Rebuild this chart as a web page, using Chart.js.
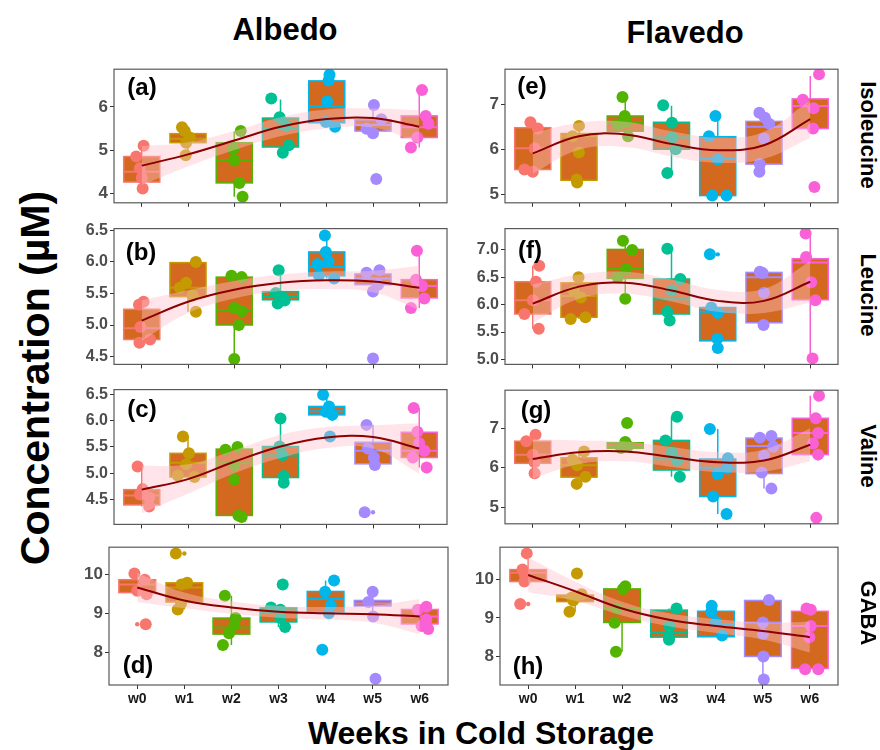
<!DOCTYPE html>
<html>
<head>
<meta charset="utf-8">
<script src="https://cdn.jsdelivr.net/npm/chart.js@4.4.1/dist/chart.umd.min.js"></script>
<style>
  body { margin: 0; background: #fff; }
  #wrap { position: relative; width: 880px; height: 750px; overflow: hidden; font-family: "Liberation Sans", Arial, sans-serif; }
  .txt { position: absolute; font-weight: bold; color: #000; white-space: nowrap; transform-origin: center center; }
</style>
</head>
<body>
<div id="wrap"></div>
<script>
// categories and group colours
const weeks = ['w0', 'w1', 'w2', 'w3', 'w4', 'w5', 'w6'];
const hue = ['#F8766D', '#C49A00', '#53B400', '#00C094', '#00B6EB', '#A58AFF', '#FB61D7'];

// box stats per week: [min, q1, median, q3, max]
// points: [week, jitter, value]; outliers: [week, value]
// fit: smooth line at each week; band: half width of the ribbon

// (a) Albedo - Isoleucine
const yRangeA = [3.78, 6.87];
const yTicksA = [4, 5, 6];
const yLabelsA = ['4', '5', '6'];
const boxA = [[4.11, 4.26, 4.50, 4.85, 5.10], [4.88, 5.17, 5.26, 5.38, 5.53], [3.92, 4.24, 4.76, 5.17, 5.43],
  [4.94, 5.07, 5.50, 5.74, 6.17], [5.54, 5.63, 6.01, 6.60, 6.74], [5.39, 5.44, 5.58, 5.70, 6.04], [5.06, 5.29, 5.53, 5.79, 6.39]];
const ptsA = [[0, -0.12, 4.85], [0, 0.04, 5.10], [0, -0.04, 4.58], [0, 0.02, 4.11], [0, 0, 4.36],
  [1, -0.13, 5.53], [1, -0.07, 5.44], [1, -0.04, 5.17], [1, -0.05, 4.88], [1, 0.04, 5.29],
  [2, 0.14, 5.44], [2, -0.02, 5.02], [2, 0, 4.76], [2, 0.11, 4.24], [2, 0.18, 3.92],
  [3, -0.2, 6.19], [3, -0.02, 5.76], [3, 0.12, 5.56], [3, 0.18, 5.11], [3, 0.05, 4.94],
  [4, 0.06, 6.74], [4, 0.04, 6.61], [4, 0.01, 6.13], [4, -0.02, 5.65], [4, 0.18, 5.54],
  [5, 0.02, 6.04], [5, 0.18, 5.71], [5, -0.14, 5.49], [5, 0, 5.39], [5, 0.07, 4.33],
  [6, 0.06, 6.39], [6, 0.14, 5.79], [6, 0.2, 5.61], [6, -0.04, 5.29], [6, -0.18, 5.06]];
const outA = [];
const fitA = [4.64, 4.90, 5.22, 5.54, 5.72, 5.74, 5.54];
const bandA = [0.45, 0.28, 0.22, 0.22, 0.22, 0.22, 0.38];

// (b) Albedo - Leucine
const yRangeB = [4.375, 6.53];
const yTicksB = [4.5, 5.0, 5.5, 6.0, 6.5];
const yLabelsB = ['4.5', '5.0', '5.5', '6.0', '6.5'];
const boxB = [[4.72, 4.77, 4.95, 5.25, 5.37], [5.21, 5.45, 5.59, 5.99, 6.00], [4.46, 5.00, 5.24, 5.76, 5.78],
  [5.34, 5.40, 5.45, 5.53, 5.87], [5.74, 5.78, 5.92, 6.16, 6.42], [5.53, 5.64, 5.74, 5.81, 5.87], [5.27, 5.43, 5.62, 5.72, 6.18]];
const ptsB = [[0, 0.04, 5.37], [0, -0.06, 5.32], [0, -0.03, 4.97], [0, 0.18, 4.77], [0, -0.05, 4.72],
  [1, 0.17, 6.00], [1, -0.04, 5.67], [1, 0.1, 5.47], [1, 0.17, 5.21], [1, -0.18, 5.59],
  [2, -0.06, 5.78], [2, 0.16, 5.76], [2, 0, 5.27], [2, 0.16, 5.22], [2, 0.1, 5.00], [2, 0, 4.46],
  [3, -0.04, 5.87], [3, -0.1, 5.51], [3, 0.05, 5.44], [3, -0.06, 5.34], [3, 0.09, 5.39],
  [4, -0.04, 6.42], [4, -0.02, 6.16], [4, -0.17, 5.79], [4, 0.16, 5.74], [4, 0.04, 6.01], [4, -0.2, 5.97],
  [5, -0.14, 5.83], [5, 0.14, 5.87], [5, 0, 5.53], [5, 0.11, 5.64], [5, 0, 4.47],
  [6, -0.05, 6.18], [6, -0.07, 5.72], [6, 0.06, 5.62], [6, 0.11, 5.42], [6, -0.18, 5.27]];
const outB = [];
const fitB = [5.07, 5.37, 5.56, 5.67, 5.71, 5.69, 5.59];
const bandB = [0.32, 0.18, 0.14, 0.13, 0.14, 0.17, 0.35];

// (c) Albedo - Valine
const yRangeC = [4.03, 6.59];
const yTicksC = [4.5, 5.0, 5.5, 6.0, 6.5];
const yLabelsC = ['4.5', '5.0', '5.5', '6.0', '6.5'];
const boxC = [[4.37, 4.40, 4.58, 4.69, 5.13], [4.93, 4.93, 5.20, 5.38, 5.70], [4.17, 4.20, 5.19, 5.46, 5.50],
  [4.82, 4.92, 5.34, 5.51, 6.04], [6.11, 6.11, 6.18, 6.27, 6.49], [5.16, 5.18, 5.43, 5.59, 5.92], [5.11, 5.30, 5.43, 5.78, 6.24]];
const ptsC = [[0, -0.09, 5.13], [0, 0.02, 4.70], [0, 0.16, 4.54], [0, 0.16, 4.37], [0, -0.04, 4.60],
  [1, -0.11, 5.70], [1, 0.02, 5.38], [1, -0.04, 5.17], [1, -0.22, 4.96], [1, 0.14, 4.93],
  [2, -0.19, 5.45], [2, 0.07, 5.50], [2, 0, 5.16], [2, 0, 4.88], [2, 0.09, 4.20], [2, 0.16, 4.17],
  [3, 0, 6.04], [3, -0.02, 5.51], [3, 0.04, 5.35], [3, 0.07, 4.95], [3, 0.07, 4.82],
  [4, -0.08, 6.49], [4, 0.05, 6.27], [4, 0.12, 6.11], [4, 0.07, 5.70], [4, -0.02, 6.17],
  [5, -0.14, 5.92], [5, -0.11, 5.47], [5, 0.02, 5.30], [5, 0.04, 5.16], [5, -0.18, 4.26],
  [6, -0.12, 6.24], [6, -0.04, 5.79], [6, 0, 5.57], [6, 0.11, 5.43], [6, -0.14, 5.30], [6, 0.16, 5.11]];
const outC = [[5, 4.26]];
const fitC = [4.69, 4.89, 5.22, 5.51, 5.68, 5.69, 5.47];
const bandC = [0.45, 0.28, 0.22, 0.22, 0.2, 0.22, 0.48];

// (d) Albedo - GABA
const yRangeD = [7.17, 10.69];
const yTicksD = [8, 9, 10];
const yLabelsD = ['8', '9', '10'];
const boxD = [[9.49, 9.53, 9.74, 9.86, 10.02], [9.10, 9.29, 9.66, 9.78, 9.78], [8.19, 8.47, 8.64, 8.88, 9.45],
  [8.65, 8.78, 9.04, 9.14, 9.15], [9.00, 9.04, 9.37, 9.56, 9.84], [8.92, 9.19, 9.25, 9.33, 9.55], [8.60, 8.73, 8.92, 9.10, 9.17]];
const ptsD = [[0, -0.06, 10.02], [0, 0.16, 9.86], [0, 0, 9.58], [0, 0.2, 9.49], [0, 0.18, 8.72],
  [1, -0.18, 10.53], [1, 0.06, 9.78], [1, -0.06, 9.74], [1, -0.14, 9.10], [1, -0.07, 9.25],
  [2, -0.14, 9.45], [2, 0.09, 8.88], [2, -0.05, 8.49], [2, -0.18, 8.19], [2, 0.06, 8.70],
  [3, -0.16, 9.15], [3, 0.04, 9.09], [3, 0.09, 9.74], [3, 0.14, 8.65], [3, 0.04, 8.88],
  [4, 0.18, 9.84], [4, -0.01, 9.55], [4, 0.11, 9.21], [4, 0.07, 9.00], [4, -0.07, 8.07],
  [5, 0, 9.55], [5, -0.09, 9.29], [5, 0.01, 8.92], [5, 0.06, 7.33],
  [6, 0.14, 9.17], [6, -0.04, 9.09], [6, 0.14, 8.84], [6, 0.18, 8.60], [6, 0.04, 8.68]];
const outD = [[0, 8.72], [1, 10.53], [4, 8.07], [5, 7.33]];
const fitD = [9.66, 9.33, 9.15, 9.04, 9.00, 8.98, 8.92];
const bandD = [0.37, 0.2, 0.16, 0.15, 0.16, 0.22, 0.45];

// (e) Flavedo - Isoleucine
const yRangeE = [4.81, 7.78];
const yTicksE = [5, 6, 7];
const yLabelsE = ['5', '6', '7'];
const boxE = [[5.50, 5.55, 6.02, 6.48, 6.60], [5.26, 5.31, 6.29, 6.35, 6.52], [6.29, 6.40, 6.60, 6.74, 7.16],
  [5.47, 6.00, 6.26, 6.60, 6.97], [4.97, 4.97, 5.79, 6.28, 6.77], [5.50, 5.67, 6.50, 6.62, 6.81], [6.46, 6.46, 6.96, 7.12, 7.63]];
const ptsE = [[0, -0.05, 6.60], [0, 0.11, 6.46], [0, 0.04, 6.02], [0, -0.18, 5.55], [0, 0, 5.50],
  [1, 0, 6.52], [1, -0.14, 6.29], [1, 0, 5.93], [1, -0.05, 5.33], [1, -0.04, 5.26],
  [2, -0.06, 7.16], [2, -0.01, 6.74], [2, 0.02, 6.60], [2, 0.06, 6.29], [2, -0.16, 6.55],
  [3, -0.18, 6.98], [3, 0.01, 6.59], [3, 0.01, 6.26], [3, 0.09, 6.00], [3, -0.09, 5.47],
  [4, -0.05, 6.74], [4, -0.19, 6.29], [4, 0, 5.77], [4, -0.12, 4.97], [4, 0.19, 4.97],
  [5, -0.1, 6.81], [5, 0.02, 6.70], [5, 0.11, 6.57], [5, 0, 6.24], [5, -0.09, 5.67], [5, -0.1, 5.50],
  [6, 0.19, 7.67], [6, -0.16, 7.10], [6, 0.07, 6.91], [6, 0.06, 6.46], [6, 0.09, 5.16]];
const outE = [];
const fitE = [5.91, 6.29, 6.33, 6.12, 5.98, 6.09, 6.67];
const bandE = [0.45, 0.3, 0.28, 0.28, 0.28, 0.3, 0.42];

// (f) Flavedo - Leucine
const yRangeF = [4.91, 7.39];
const yTicksF = [5.0, 5.5, 6.0, 6.5, 7.0];
const yLabelsF = ['5.0', '5.5', '6.0', '6.5', '7.0'];
const boxF = [[5.56, 5.83, 6.08, 6.42, 6.71], [5.74, 5.77, 6.16, 6.40, 6.50], [6.11, 6.48, 6.65, 7.01, 7.17],
  [5.71, 5.83, 6.10, 6.47, 7.02], [5.21, 5.34, 5.87, 5.95, 5.95], [5.63, 5.67, 6.50, 6.59, 6.60], [5.02, 6.09, 6.77, 6.84, 7.30]];
const ptsF = [[0, 0.14, 6.71], [0, 0.07, 6.42], [0, 0, 6.08], [0, -0.18, 5.83], [0, 0.13, 5.56],
  [1, -0.01, 6.50], [1, 0.04, 6.13], [1, -0.18, 5.74], [1, 0.14, 5.77], [1, -0.11, 6.25],
  [2, -0.05, 7.17], [2, 0.15, 7.00], [2, 0.02, 6.65], [2, -0.16, 6.50], [2, 0, 6.11],
  [3, -0.09, 7.02], [3, 0.19, 6.47], [3, 0.01, 6.26], [3, -0.09, 5.87], [3, -0.04, 5.71],
  [4, -0.17, 6.92], [4, 0, 5.85], [4, -0.14, 5.95], [4, -0.01, 5.38], [4, 0, 5.21],
  [5, -0.09, 6.60], [5, -0.03, 6.58], [5, 0, 6.22], [5, -0.01, 5.63],
  [6, -0.1, 7.30], [6, -0.09, 6.87], [6, 0.02, 6.41], [6, 0.11, 6.08], [6, 0.05, 5.02]];
const outF = [[4, 6.92]];
const fitF = [6.02, 6.33, 6.40, 6.26, 6.07, 6.07, 6.42];
const bandF = [0.35, 0.22, 0.2, 0.2, 0.2, 0.22, 0.38];

// (g) Flavedo - Valine
const yRangeG = [4.58, 7.96];
const yTicksG = [5, 6, 7];
const yLabelsG = ['5', '6', '7'];
const boxG = [[5.86, 6.11, 6.33, 6.67, 6.83], [5.59, 5.76, 6.06, 6.25, 6.41], [6.49, 6.49, 6.55, 6.63, 6.65],
  [5.77, 5.94, 6.21, 6.69, 7.29], [4.83, 5.27, 6.00, 6.22, 6.98], [5.47, 5.85, 6.55, 6.75, 6.80], [6.33, 6.33, 6.88, 7.25, 7.82]];
const ptsG = [[0, -0.14, 6.67], [0, 0.06, 6.83], [0, 0, 6.33], [0, 0.04, 6.14], [0, 0.04, 5.86],
  [1, 0.11, 6.41], [1, -0.04, 6.06], [1, 0.14, 5.77], [1, -0.05, 5.59], [1, -0.14, 6.20],
  [2, 0.04, 7.13], [2, 0, 6.65], [2, 0.06, 6.55], [2, -0.09, 6.50],
  [3, 0.12, 7.29], [3, -0.13, 6.69], [3, 0.01, 6.39], [3, 0.18, 5.77], [3, 0.12, 6.18],
  [4, -0.17, 6.98], [4, 0.22, 6.24], [4, 0, 5.84], [4, 0.2, 5.98], [4, -0.1, 5.27], [4, 0.19, 4.83],
  [5, -0.09, 6.76], [5, 0.16, 6.80], [5, 0.2, 6.53], [5, 0, 6.31], [5, -0.05, 5.88], [5, 0.16, 5.47],
  [6, 0.19, 7.82], [6, 0.12, 7.25], [6, 0.17, 6.88], [6, 0.06, 6.61], [6, 0.17, 6.33], [6, 0.13, 4.73]];
const outG = [];
const fitG = [6.22, 6.39, 6.41, 6.27, 6.14, 6.18, 6.58];
const bandG = [0.5, 0.3, 0.25, 0.25, 0.25, 0.28, 0.42];

// (h) Flavedo - GABA
const yRangeH = [7.26, 10.83];
const yTicksH = [8, 9, 10];
const yLabelsH = ['8', '9', '10'];
const boxH = [[9.94, 9.94, 10.17, 10.25, 10.67], [9.16, 9.42, 9.53, 9.59, 9.61], [8.12, 8.88, 9.24, 9.75, 9.82],
  [8.43, 8.50, 8.62, 9.20, 9.24], [8.51, 8.51, 8.83, 9.17, 9.31], [7.50, 8.00, 8.88, 9.45, 9.46], [7.67, 7.69, 8.79, 9.17, 9.24]];
const ptsH = [[0, -0.03, 10.67], [0, -0.12, 10.25], [0, -0.08, 10.15], [0, -0.08, 9.94], [0, -0.17, 9.36],
  [1, 0.04, 10.15], [1, 0.14, 9.61], [1, -0.07, 9.53], [1, -0.12, 9.16], [1, -0.04, 9.45],
  [2, 0.02, 9.75], [2, 0.07, 9.82], [2, -0.11, 9.24], [2, -0.16, 8.87], [2, -0.13, 8.12],
  [3, 0.16, 9.24], [3, 0.01, 8.79], [3, 0, 8.50], [3, 0, 8.43],
  [4, -0.09, 9.31], [4, 0, 8.89], [4, 0.13, 8.54], [4, -0.1, 9.16],
  [5, 0.13, 9.46], [5, 0, 8.88], [5, 0, 8.58], [5, 0.01, 8.00], [5, 0.02, 7.40],
  [6, -0.07, 9.24], [6, 0.02, 9.21], [6, 0.02, 8.79], [6, -0.01, 8.50], [6, -0.1, 7.67], [6, 0.18, 7.67]];
const outH = [[0, 9.36]];
const fitH = [10.11, 9.69, 9.24, 8.95, 8.79, 8.66, 8.50];
const bandH = [0.45, 0.25, 0.18, 0.17, 0.18, 0.22, 0.4];

// panel placement (pixel frame of each plot area)
const panels = [
  { tag: '(a)', left: 114, top: 63, w: 333, h: 144, yr: yRangeA, yt: yTicksA, yl: yLabelsA, box: boxA, pts: ptsA, out: outA, fit: fitA, band: bandA, tagX: 142, tagY: 87, fs: 17 },
  { tag: '(b)', left: 114, top: 223, w: 333, h: 145, yr: yRangeB, yt: yTicksB, yl: yLabelsB, box: boxB, pts: ptsB, out: outB, fit: fitB, band: bandB, tagX: 141, tagY: 252, fs: 16 },
  { tag: '(c)', left: 114, top: 384, w: 333, h: 144, yr: yRangeC, yt: yTicksC, yl: yLabelsC, box: boxC, pts: ptsC, out: outC, fit: fitC, band: bandC, tagX: 142, tagY: 409, fs: 16 },
  { tag: '(d)', left: 109, top: 541, w: 339, h: 144, yr: yRangeD, yt: yTicksD, yl: yLabelsD, box: boxD, pts: ptsD, out: outD, fit: fitD, band: bandD, tagX: 138, tagY: 665, fs: 17, xLabels: true },
  { tag: '(e)', left: 505, top: 63, w: 333, h: 144, yr: yRangeE, yt: yTicksE, yl: yLabelsE, box: boxE, pts: ptsE, out: outE, fit: fitE, band: bandE, tagX: 532, tagY: 86, fs: 17 },
  { tag: '(f)', left: 505, top: 223, w: 333, h: 145, yr: yRangeF, yt: yTicksF, yl: yLabelsF, box: boxF, pts: ptsF, out: outF, fit: fitF, band: bandF, tagX: 530, tagY: 250, fs: 16 },
  { tag: '(g)', left: 505, top: 384, w: 333, h: 144, yr: yRangeG, yt: yTicksG, yl: yLabelsG, box: boxG, pts: ptsG, out: outG, fit: fitG, band: bandG, tagX: 536, tagY: 410, fs: 17 },
  { tag: '(h)', left: 500, top: 541, w: 338, h: 144, yr: yRangeH, yt: yTicksH, yl: yLabelsH, box: boxH, pts: ptsH, out: outH, fit: fitH, band: bandH, tagX: 528, tagY: 666, fs: 17, xLabels: true }
];

const wrap = document.getElementById('wrap');

function addText(text, x, y, size, rot) {
  const d = document.createElement('div');
  d.className = 'txt';
  d.textContent = text;
  d.style.fontSize = size + 'px';
  d.style.left = x + 'px';
  d.style.top = y + 'px';
  d.style.transform = 'translate(-50%, -50%)' + (rot ? ' rotate(' + rot + 'deg)' : '');
  wrap.appendChild(d);
}

function makePanel(p) {
  const axW = 50, pad = 6;
  const xh = p.xLabels ? 28 : 8;
  const cv = document.createElement('canvas');
  cv.width = p.w + axW + pad;
  cv.height = p.h + pad + xh;
  cv.style.position = 'absolute';
  cv.style.left = (p.left - axW) + 'px';
  cv.style.top = (p.top - pad) + 'px';
  wrap.appendChild(cv);

  // boxplots under the points, frame on top
  const boxPlugin = {
    id: 'boxes',
    beforeDatasetsDraw(chart) {
      const { ctx, scales: { x, y } } = chart;
      ctx.save();
      p.box.forEach((b, i) => {
        const xl = x.getPixelForValue(i - 0.39), xr = x.getPixelForValue(i + 0.39), xc = x.getPixelForValue(i);
        const [mn, q1, md, q3, mx] = b.map(v => y.getPixelForValue(v));
        ctx.strokeStyle = hue[i];
        ctx.lineWidth = 1.5;
        ctx.beginPath();
        ctx.moveTo(xc, q3); ctx.lineTo(xc, mx);
        ctx.moveTo(xc, q1); ctx.lineTo(xc, mn);
        ctx.stroke();
        ctx.fillStyle = '#D2691E';
        ctx.fillRect(xl, q3, xr - xl, q1 - q3);
        ctx.strokeRect(xl, q3, xr - xl, q1 - q3);
        ctx.lineWidth = 2;
        ctx.beginPath();
        ctx.moveTo(xl, md); ctx.lineTo(xr, md);
        ctx.stroke();
      });
      ctx.restore();
    },
    afterDraw(chart) {
      const { ctx, chartArea: a } = chart;
      ctx.save();
      ctx.strokeStyle = '#595959';
      ctx.lineWidth = 1.2;
      ctx.strokeRect(a.left, a.top, a.right - a.left, a.bottom - a.top);
      ctx.restore();
    }
  };

  const fitPts = p.fit.map((v, i) => ({ x: i, y: v }));
  const hiPts = p.fit.map((v, i) => ({ x: i, y: v + p.band[i] }));
  const loPts = p.fit.map((v, i) => ({ x: i, y: v - p.band[i] }));

  new Chart(cv, {
    type: 'scatter',
    data: {
      datasets: [
        { data: fitPts, showLine: true, borderColor: '#8B0000', borderWidth: 2, pointRadius: 0, tension: 0.4, fill: false },
        { data: hiPts, showLine: true, borderWidth: 0, borderColor: 'rgba(0,0,0,0)', pointRadius: 0, tension: 0.4, fill: false },
        { data: loPts, showLine: true, borderWidth: 0, borderColor: 'rgba(0,0,0,0)', pointRadius: 0, tension: 0.4,
          fill: { target: 1 }, backgroundColor: 'rgba(255,192,203,0.42)' },
        { data: p.pts.map(q => ({ x: q[0] + q[1], y: q[2] })), pointRadius: 6, borderWidth: 0,
          pointBackgroundColor: p.pts.map(q => hue[q[0]]) },
        { data: p.out.map(q => ({ x: q[0], y: q[1] })), pointRadius: 2.2, borderWidth: 0,
          pointBackgroundColor: p.out.map(q => hue[q[0]]) }
      ]
    },
    options: {
      responsive: false,
      animation: false,
      events: [],
      layout: { padding: { top: pad, right: pad, left: 0, bottom: 0 } },
      plugins: { legend: { display: false }, tooltip: { enabled: false } },
      scales: {
        x: {
          type: 'linear', min: -0.6, max: 6.6,
          afterBuildTicks: s => { s.ticks = weeks.map((w, i) => ({ value: i })); },
          afterFit: s => { s.height = xh; },
          grid: { drawOnChartArea: false, tickLength: 4, color: '#333' },
          border: { display: false },
          ticks: {
            display: !!p.xLabels, autoSkip: false, maxRotation: 0, padding: 2,
            color: '#1a1a1a', font: { size: 14, weight: 'bold', family: 'Liberation Sans' },
            callback: (v, i) => weeks[i]
          }
        },
        y: {
          type: 'linear', min: p.yr[0], max: p.yr[1],
          afterBuildTicks: s => { s.ticks = p.yt.map(v => ({ value: v })); },
          afterFit: s => { s.width = axW; },
          grid: { drawOnChartArea: false, tickLength: 4, color: '#333' },
          border: { display: false },
          ticks: {
            padding: 2, color: '#4D4D4D', font: { size: p.fs, weight: 'bold', family: 'Liberation Sans' },
            callback: (v, i) => p.yl[i]
          }
        }
      }
    },
    plugins: [boxPlugin]
  });

  addText(p.tag, p.tagX, p.tagY, 24, 0);
}

panels.forEach(makePanel);

// titles and strip labels
addText('Albedo', 285, 30, 31, 0);
addText('Flavedo', 685, 33, 31, 0);
addText('Isoleucine', 868, 135, 22, 90);
addText('Leucine', 868, 295, 22, 90);
addText('Valine', 868, 456, 22, 90);
addText('GABA', 868, 613, 22, 90);
addText('Concentration (\u00B5M)', 35, 378, 41, -90);
addText('Weeks in Cold Storage', 481, 733, 32, 0);
</script>
</body>
</html>
